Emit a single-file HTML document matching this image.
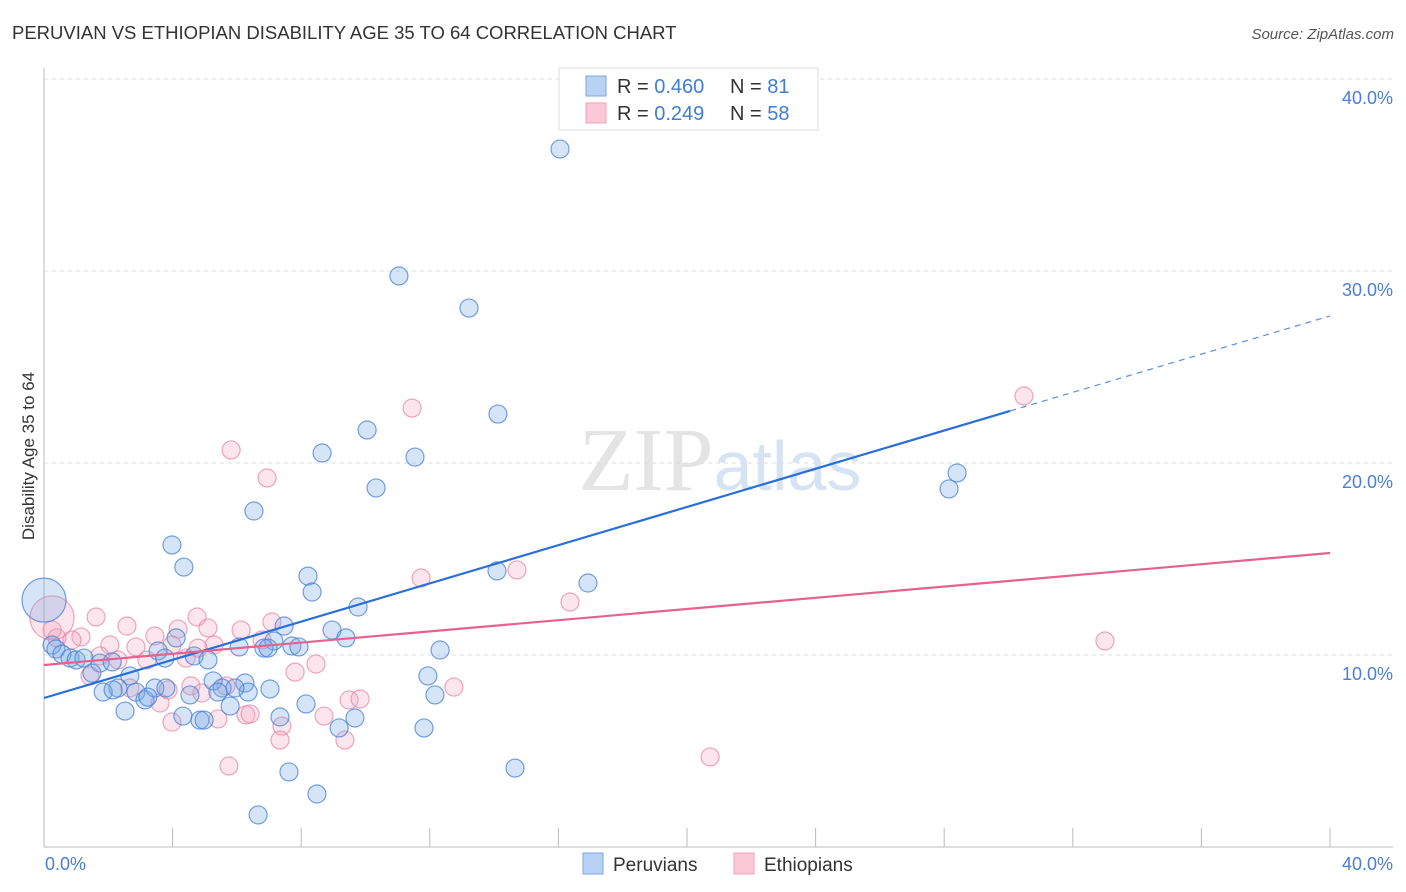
<!DOCTYPE html>
<html><head><meta charset="utf-8"><style>
body{margin:0;background:#fff;font-family:"Liberation Sans",sans-serif;}
svg{display:block}
</style></head><body>
<svg id="chart" width="1406" height="892" xmlns="http://www.w3.org/2000/svg">
<text x="12" y="39" font-size="18.5" fill="#333">PERUVIAN VS ETHIOPIAN DISABILITY AGE 35 TO 64 CORRELATION CHART</text>
<text x="1394" y="39" font-size="15" fill="#555" text-anchor="end" font-style="italic">Source: ZipAtlas.com</text>
<text x="720" y="490" font-size="90" fill="#e4e4e4" text-anchor="middle" font-family="Liberation Serif, serif">ZIP<tspan fill="#d5e3f3" font-family="Liberation Sans, sans-serif" font-size="70">atlas</tspan></text>
<g id="grid"></g>
<g id="axes"></g>
<g id="points"></g>
<g id="lines"></g>
<text transform="translate(34,456) rotate(-90)" font-size="17" fill="#333" text-anchor="middle">Disability Age 35 to 64</text>
<text x="45" y="870" font-size="18" fill="#4a7fd4">0.0%</text>
<text x="1393" y="870" font-size="18" fill="#4a7fd4" text-anchor="end">40.0%</text>
<g>
<rect x="559" y="68" width="259" height="62" fill="#fff" stroke="#ddd"/>
<rect x="586" y="76" width="20" height="20" fill="#b8d2f4" stroke="#7aa6e0"/>
<rect x="586" y="103" width="20" height="20" fill="#fac8d6" stroke="#eea3ba"/>
<text x="617" y="93" font-size="20" fill="#333">R = <tspan fill="#3f7dd6">0.460</tspan></text>
<text x="730" y="93" font-size="20" fill="#333">N = <tspan fill="#3f7dd6"> 81</tspan></text>
<text x="617" y="120" font-size="20" fill="#333">R = <tspan fill="#3f7dd6"> 0.249</tspan></text>
<text x="730" y="120" font-size="20" fill="#333">N = <tspan fill="#3f7dd6">58</tspan></text>
</g>
<g>
<rect x="583" y="853" width="20" height="21" fill="#b8d2f4" stroke="#7aa6e0"/>
<text x="613" y="871" font-size="19" fill="#333">Peruvians</text>
<rect x="734" y="853" width="20" height="21" fill="#fac8d6" stroke="#eea3ba"/>
<text x="764" y="871" font-size="19" fill="#333">Ethiopians</text>
</g>
</svg>
<script>
const yTicks=[10,20,30,40];
const yTickLabels=["10.0%","20.0%","30.0%","40.0%"];
const xTicks=[0,4,8,12,16,20,24,28,32,36,40];
const peruX=[16.05,11.04,13.22,14.12,10.05,8.65,11.54,10.33,28.40,28.15,6.53,3.98,4.35,8.21,8.34,14.09,16.92,9.77,7.47,8.96,9.39,4.11,7.15,6.07,6.84,6.97,7.71,7.93,12.32,3.55,3.76,4.67,5.10,0.25,0.37,0.56,0.81,1.00,1.24,1.74,1.49,2.12,2.67,2.30,1.84,2.15,2.86,3.14,3.45,3.79,2.52,3.23,5.26,5.54,5.41,6.25,6.35,5.94,7.03,4.54,5.79,4.32,4.85,4.98,7.34,8.15,11.94,12.16,9.18,9.67,11.82,7.62,8.49,6.66,14.65,0];
const peruY=[36.35,29.74,28.07,22.55,21.72,20.52,20.31,18.70,19.48,18.65,17.50,15.73,14.58,14.11,13.28,14.38,13.75,12.50,11.51,11.30,10.89,10.89,10.73,10.42,10.36,10.36,10.47,10.42,10.26,10.21,9.84,9.95,9.74,10.52,10.31,10.05,9.84,9.74,9.84,9.58,9.06,9.64,8.91,8.28,8.07,8.18,8.07,7.66,8.28,8.28,7.08,7.81,8.65,8.28,8.07,8.54,8.07,8.28,8.23,7.92,7.34,6.82,6.61,6.61,6.77,7.45,8.91,7.92,6.20,6.72,6.20,3.91,2.76,1.67,4.11,12.86];
const ethX=[30.48,11.45,5.82,6.94,11.73,14.71,16.36,33.00,1.62,2.58,3.45,4.17,4.76,5.10,6.13,7.09,6.78,5.29,1.15,0.87,0.40,0.25,2.05,2.86,3.20,1.74,2.30,4.42,4.79,3.98,0.25,7.81,8.46,4.57,3.86,3.61,3.98,4.91,5.41,6.28,5.66,6.41,7.40,7.34,8.71,9.36,9.49,9.83,12.75,5.75,20.72,2.67,1.43];
const ethY=[23.49,22.86,20.68,19.22,14.01,14.43,12.76,10.73,11.98,11.51,10.99,11.35,11.98,11.41,11.30,11.72,10.78,10.52,10.94,10.78,10.89,11.30,10.52,10.42,9.74,9.95,9.74,9.84,10.36,10.52,11.93,9.11,9.53,8.39,8.18,7.50,6.51,8.02,6.67,6.88,8.39,6.93,6.30,5.57,6.82,5.57,7.66,7.71,8.33,4.22,4.69,8.28,8.91];
const peruBig=[75];
const ethBig=[30];
const peruFit=[7.76,0.4975];
const ethFit=[9.48,0.1458];
const peruFitSolidEnd=30.05;

const NS="http://www.w3.org/2000/svg";
const X0=44,X1=1330,Y0=847,PX=19.2;
function sx(v){return X0+(X1-X0)*v/40;}
function sy(v){return Y0-v*PX;}
function mk(tag,attrs,parent){const e=document.createElementNS(NS,tag);for(const k in attrs)e.setAttribute(k,attrs[k]);parent.appendChild(e);return e;}
const grid=document.getElementById('grid'),axes=document.getElementById('axes'),pts=document.getElementById('points'),lines=document.getElementById('lines');
yTicks.forEach((t,i)=>{
 const l=mk('line',{x1:X0,x2:1393,y1:sy(t),y2:sy(t),stroke:'#ddd','stroke-dasharray':'4,4'},grid);
 
 
 const tx=mk('text',{x:1393,y:sy(t)+25,'font-size':18,fill:'#4a7fd4','text-anchor':'end'},grid);
 tx.textContent=yTickLabels[i];
 
 
});
const ax=mk('line',{x1:X0,x2:X0,y1:68,y2:Y0,stroke:'#bbb'},axes);


const bx=mk('line',{x1:X0,x2:1393,y1:Y0,y2:Y0,stroke:'#bbb'},axes);


xTicks.forEach(t=>{
 const l=mk('line',{x1:sx(t),x2:sx(t),y1:828,y2:Y0,stroke:'#bbb'},axes);
 
 
});
function drawSeries(xs,ys,big,fill,stroke,name){
 xs.forEach((x,i)=>{
  const r=big.includes(i)?22:9;
  const c=mk('circle',{cx:sx(x),cy:sy(ys[i]),r:r,fill:fill,stroke:stroke,'stroke-width':1.2},pts);
  
  
 });
}
drawSeries(ethX,ethY,ethBig,'rgba(245,160,190,0.28)','rgba(232,130,160,0.7)','ethiopian-point');
drawSeries(peruX,peruY,peruBig,'rgba(120,165,230,0.3)','rgba(70,130,215,0.75)','peruvian-point');
const l1=mk('line',{x1:sx(0),y1:sy(peruFit[0]),x2:sx(peruFitSolidEnd),y2:sy(peruFit[0]+peruFit[1]*peruFitSolidEnd),stroke:'#2a6fd8','stroke-width':2.2},lines);


const l2=mk('line',{x1:sx(peruFitSolidEnd),y1:sy(peruFit[0]+peruFit[1]*peruFitSolidEnd),x2:sx(40),y2:sy(peruFit[0]+peruFit[1]*40),stroke:'#5b8fe0','stroke-width':1.2,'stroke-dasharray':'6,5'},lines);


const l3=mk('line',{x1:sx(0),y1:sy(ethFit[0]),x2:sx(40),y2:sy(ethFit[0]+ethFit[1]*40),stroke:'#e5628e','stroke-width':2.2},lines);


</script>
</body></html>
